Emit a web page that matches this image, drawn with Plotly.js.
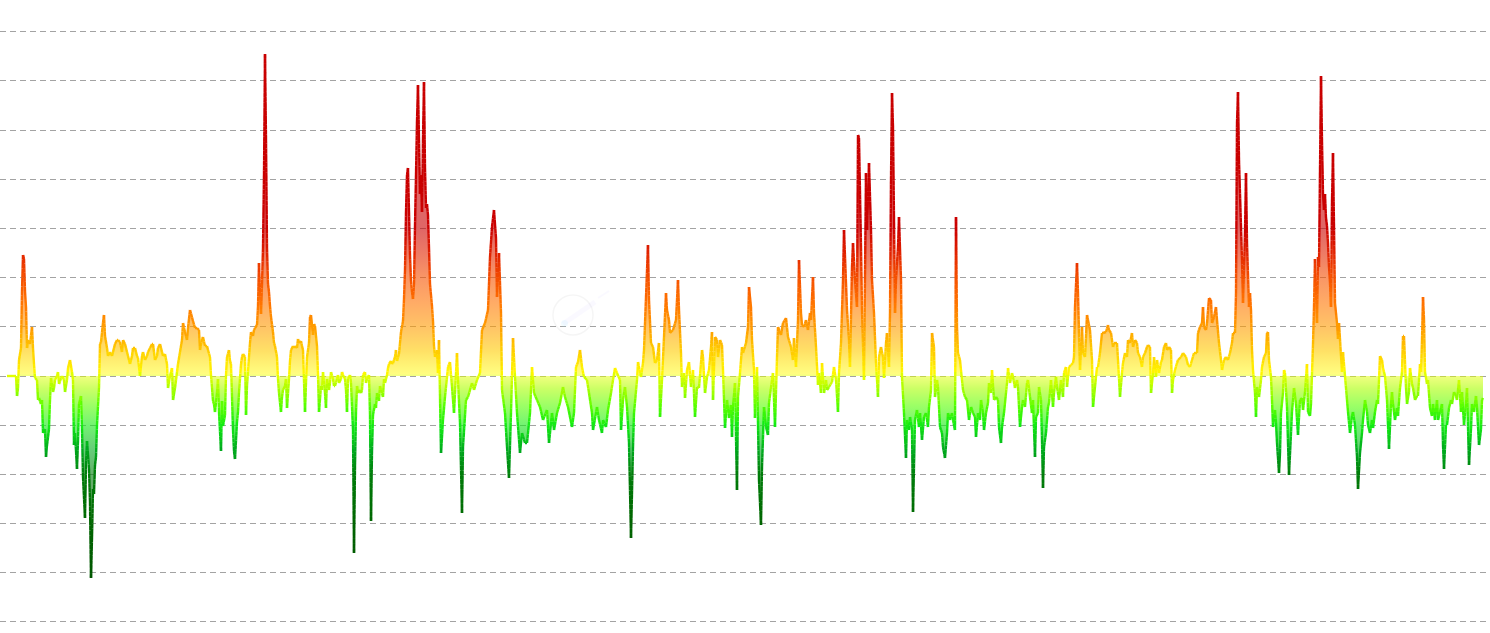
<!DOCTYPE html>
<html>
<head>
<meta charset="utf-8">
<script src="https://cdn.plot.ly/plotly-3.0.1.min.js"></script>
<style>
html,body{margin:0;padding:0;background:#ffffff;}
#chart{width:1490px;height:633px;}
</style>
</head>
<body>
<div id="chart"></div>
<script>
// ---- data: time index (days) and values, in segments ----
const seg1Day = [7,16,17,18,19,21,22,23,24,25,26,27,28,30,32,33,34,35,37,38,39,41,42,43,45,46,47,49,50,51,53,54,55,57,58,59,61,62,64,65,67,68,70,72,73,74,75,77,78,79,81,82,83,85,86,87,89,90,91,92,93,94,95,96,97,99,100,101,103,104,105,107,108,110,112,113,115,117,118,120,122,123,125,127,128,130,132,133,135,137,138,140,142,143,145,147,148,150,152,153,155,157,158,160,162,163,165,167,168,170,172,173,175,177,178,180,182,183,185,187,188];
const seg1Value = [0,0,-20,-12,16,28,85,121,117,85,69,28,36,32,49,28,12,-2,-4,-24,-22,-28,-24,-57,-53,-81,-69,-53,-24,-2,-16,-12,-4,0,4,-8,-2,0,-4,-16,-4,8,16,4,-4,-69,-57,-93,-65,-28,-20,-53,-101,-142,-89,-65,-93,-126,-202,-162,-113,-118,-89,-81,-49,-12,32,34,53,61,40,28,20,24,20,24,32,36,36,34,24,36,32,24,20,12,20,28,28,20,18,0,20,24,16,20,24,28,32,32,16,20,28,32,24,20,22,12,-12,0,8,-24,-12,4,12,24,36,53,44,36,48];

const seg2Day = [190,193,195,197,199,200,202,203,205,207,208,210,211,213,214,215,217,218,219,221,222,223,225,226,227,229,230,231,233,234,235,237,238,239,241,242,243,245,246,247,249,250,251,253,254,255,257,258,259,260,261,262,263,264,265,266,267,268,269,270,271,273,274,275,277,278,279,281,282,283,285,286,287,289,290,291,293,294,295,297,298,299,301,302,303,305,306,307,309,310,311,313,314,315,317,318,319,321,322,323,325,326,327,329,330,331,333,334,335,337,338,339,341,342,343,345,346,347,348,350,351,353,354,355,356,357,358,359,361,362,363,365,366,367,369,370,371,372,373,375,376,377,379,380,381,383,384,385,387,388,389,391,392,393,395,396,397,399,400,401,403,404,405,406,407,408,409,410,411,412,413,414,415,416,417,418,419,420,421,422,423,424,425,426,427,428,429,430,431,432,433,434,435,437,438];
const seg2Value = [66,55,48,48,46,26,37,39,30,30,26,19,1,-25,-28,-36,-17,-3,-36,-75,-25,-50,-39,1,19,26,15,12,-54,-75,-83,-46,-36,-17,12,19,22,19,-39,-10,19,33,44,40,46,48,51,70,113,84,62,92,128,201,322,237,128,92,84,70,59,44,33,30,19,-3,-17,-36,-21,-14,-10,-3,-32,-3,15,26,30,28,30,28,37,33,35,30,26,-36,-7,19,33,59,61,41,52,50,30,1,-36,-10,-14,4,-17,-32,-3,-14,-7,4,-3,-10,-10,-3,1,-7,-3,4,1,-3,-14,-36,-3,1,-7,-54,-177,-90,-36,-10,-17,-14,-17,-14,1,4,-7,-3,1,-39,-145,-75,-39,-28,-32,-17,-25,-10,-14,-21,-3,-7,1,8,12,15,12,13,19,26,15,22,33,44,55,77,106,164,201,208,164,121,95,84,77,92,150,201,255,291,237,182,201,164,237,294,208,168,172,161,128,92,81,70,55,30,19,26,3];

const seg3Day = [439,441,443,445,448,450,452,454,457,458,460,462,463,466,468,472,474,477,480,482,485,488,490,492,494,496,497,499,501,502,505,507,509,511,513,515,517,520,522,525,527,530,532,534,537,540,543,547,549,552,554,557,560,563,565,568,572,574,576,578,580,582,584,587,589,592,593,597,599,602,603,606,608,611,613,615,617,620,621,623,625,627,629,631,633,634,637,638,641,643,644,646,648,649,651,653,655,657,659,660,662,664,666,667,669];
const seg3Value = [36,-77,-44,-21,9,14,-11,-37,23,-4,-47,-137,-71,-24,-21,-7,-14,-4,3,46,53,66,119,149,166,138,79,123,63,-14,-37,-71,-102,-37,38,-1,-37,-77,-57,-67,-67,-37,9,-17,-24,-31,-44,-34,-67,-37,-54,-37,-27,-11,-21,-31,-51,-37,9,14,26,9,-1,-4,-17,-37,-54,-31,-44,-57,-44,-51,-34,-17,-4,8,3,-4,-54,-24,-11,-31,-67,-162,-71,-37,-4,14,-1,13,26,79,131,76,33,29,13,16,33,-41,-4,39,83,66,56];

const seg4Day = [670,673,676,678,679,681,682,684,685,687,689,691,693,695,697,699,702,703,705,707,709,711,712,713,715,717,718,720,722,723,725,727,729,731,732,733,735,737,738,740,742,743,746,748,749,751,752,754,755,757,759,761,762,764,766,768,769,772,773,775,777,778,781,783,786,788,791,793,794,796,798,799,801,802,804,806,808,810,811,813,814,816,818,819,821,822,824,826,827,829,832,834,836,838,839,841,843,844,846,847,849,850,852,853,855,857,858,859,861,862,864,866,867,869,871,872,874,876,877,878,879,881,883,884,886,887,889,890,891,892,893,895,896,898,899,901,902,904,906,907,909];
const seg4Value = [43,46,56,96,66,23,-11,3,-22,6,14,-11,6,-41,-11,-12,26,19,-17,-1,6,29,44,-24,39,36,19,36,31,6,-52,-24,-42,-29,-61,-31,-7,-114,-21,3,29,23,33,49,89,69,36,6,-42,9,-104,-149,-91,-31,-51,-59,-27,-4,3,-51,19,49,41,53,58,39,29,16,38,9,56,116,63,51,49,56,46,63,56,99,63,29,-9,3,-17,13,-17,-4,-14,-11,-6,9,-4,-36,3,33,96,146,93,66,36,9,109,133,96,69,241,238,129,66,-4,203,146,213,146,96,63,13,-4,-21,19,29,19,-2,33,43,9,63,196,283,249,63,96,129,159,96,-1,-37,-82,-44,-54];

const seg5Day = [910,912,913,915,917,919,920,922,924,926,928,929,931,932,934,935,937,938,940,942,943,945,947,948,950,952,953,955,956,957,958,960,962,963,965,967,969,971,973,975,976,978,980,981,983,984,986,988,989,991,992,994,996,998,999,1001,1002,1004,1006,1007,1008,1010,1012,1013,1015,1017,1018,1020,1022,1023,1025,1027,1028,1030,1032,1033,1035,1036,1038,1039,1041,1042,1043,1044,1046,1048,1049,1051,1053,1054,1056,1057,1059,1061,1063,1064,1066,1067,1069,1071,1073,1074,1075,1077,1078,1079,1080,1082,1083,1085,1087,1088,1090,1092,1093,1095,1097,1098,1100,1102,1103,1106,1108,1109,1111,1113,1114,1117,1118,1120,1122,1123,1125,1127,1128,1130,1132,1133,1135,1137,1138,1140,1142,1143,1145,1147,1148];
const seg5Value = [-41,-54,-136,-44,-34,-51,-37,-64,-41,-37,-51,-31,-14,43,29,-21,-4,-11,-51,-57,-71,-82,-57,-37,-44,-37,-44,-54,159,49,23,16,-4,-14,-21,-24,-44,-31,-37,-41,-61,-37,-44,-24,-37,-54,-37,-27,-7,-17,6,-24,-21,-24,-51,-67,-51,-37,-17,-7,8,-7,3,-1,-12,-4,-11,-51,-31,-24,-31,-7,-4,-21,-37,-24,-81,-41,-37,-11,-24,-64,-112,-71,-57,-31,-27,-4,-31,-17,-1,-11,-24,-4,-21,3,9,-11,9,11,13,19,69,113,83,43,6,49,23,19,61,56,46,16,-31,-11,9,9,23,43,43,44,51,46,43,29,33,33,16,-21,3,13,23,19,36,33,43,29,36,33,23,19,9,19,23,29,31];

const seg6Day = [1150,1151,1153,1154,1156,1157,1159,1161,1162,1164,1166,1167,1169,1171,1172,1173,1175,1177,1178,1181,1183,1186,1188,1190,1192,1194,1197,1198,1200,1202,1203,1204,1206,1207,1209,1211,1212,1214,1216,1217,1219,1221,1222,1224,1226,1228,1230,1232,1233,1235,1236,1237,1238,1239,1241,1242,1243,1245,1246,1247,1249,1250,1251,1252,1253,1255,1256,1257,1259,1261,1262,1264,1266,1267,1268,1269,1271,1272,1273,1275,1276,1277,1279,1280,1281,1283,1284,1285,1287,1288,1289];
const seg6Value = [29,-17,3,19,-1,16,3,14,16,29,33,26,29,26,-17,-4,6,13,16,19,23,19,11,9,16,23,23,43,49,53,69,49,46,53,78,76,53,59,69,56,33,16,6,16,19,16,23,33,43,43,83,253,284,216,149,116,73,143,203,133,69,83,66,26,6,-17,-41,-11,-21,-4,9,19,23,43,44,16,-1,-24,-51,-34,-47,-67,-97,-77,-37,-17,6,3,-31,-67,-99];

const seg7Day = [1292,1294,1296,1298,1300,1302,1303,1305,1307,1308,1310,1311,1313,1314,1315,1317,1318,1319,1321,1322,1323,1324,1325,1326,1327,1328,1329,1330,1331,1332,1333,1334,1335,1337,1338,1339,1341,1342,1343,1345,1347,1348,1350,1352,1353,1355,1357,1358,1360,1362,1363,1365,1367,1368,1370,1372,1373,1375,1377,1378,1380,1382,1383,1385,1387,1388,1389,1391,1392,1393,1395,1397,1398,1400,1402,1403,1404,1406,1407,1409,1410,1412,1413,1415,1417,1418,1420,1421,1422,1423,1424,1425,1427,1428,1430,1432,1433,1435,1437,1438,1440,1442,1443,1444,1446,1447,1449,1451,1452,1454,1456,1457,1459,1461,1462,1464,1466,1467,1469,1471,1472,1474,1476,1477,1479,1481,1482,1483];
const seg7Value = [-36,-12,-28,-59,-24,-22,-34,-16,12,-36,-40,-28,32,69,117,53,119,109,300,235,182,166,182,158,150,133,109,93,69,174,223,150,73,53,37,53,20,4,24,0,-24,-36,-57,-40,-36,-49,-81,-113,-77,-57,-44,-24,-36,-49,-57,-44,-52,-36,-24,-28,20,16,8,0,-24,-49,-73,-28,-16,-28,-44,-32,-40,-12,4,40,40,-12,-28,-16,8,-8,-12,-24,-20,-20,12,4,36,79,57,4,-8,-4,-32,-40,-28,-44,-24,-44,-36,-28,-69,-93,-49,-49,-32,-24,-28,-16,-20,-24,-4,-36,-16,-49,-28,-12,-89,-53,-28,-36,-20,-32,-69,-53,-24,-22];

// ---- assemble ----
const dayParts = [seg1Day, seg2Day, seg3Day, seg4Day, seg5Day, seg6Day, seg7Day];
const valueParts = [seg1Value, seg2Value, seg3Value, seg4Value, seg5Value, seg6Value, seg7Value];
const days = [], values = [];
for (let s = 0; s < dayParts.length; s++) {
  const m = Math.min(dayParts[s].length, valueParts[s].length);
  if (dayParts[s].length !== valueParts[s].length) console.warn('segment', s + 1, 'length mismatch', dayParts[s].length, valueParts[s].length);
  for (let i = 0; i < m; i++) { days.push(dayParts[s][i]); values.push(valueParts[s][i]); }
}

// ---- styling ----
const GRID = 49.17;          // value units between grid lines
const Y_MIN = -257, Y_MAX = 376;
const colorStops = [
  [-5.3, [0, 80, 0]],
  [-4, [0, 88, 0]],
  [-3, [0, 100, 0]],
  [-2, [0, 125, 10]],
  [-1.5, [0, 170, 30]],
  [-1, [20, 235, 20]],
  [-0.6, [90, 255, 0]],
  [-0.25, [170, 255, 0]],
  [0, [225, 255, 0]],
  [0.05, [255, 250, 0]],
  [0.5, [255, 205, 0]],
  [1, [255, 155, 0]],
  [1.5, [255, 115, 0]],
  [2, [245, 80, 0]],
  [2.5, [225, 35, 0]],
  [3, [202, 0, 0]],
  [7.7, [200, 0, 0]]
];
function rgbAt(g) {
  if (g <= colorStops[0][0]) return colorStops[0][1];
  for (let i = 1; i < colorStops.length; i++) {
    if (g <= colorStops[i][0]) {
      const a = colorStops[i - 1], b = colorStops[i];
      const t = (g - a[0]) / (b[0] - a[0]);
      return [0, 1, 2].map(k => Math.round(a[1][k] + (b[1][k] - a[1][k]) * t));
    }
  }
  return colorStops[colorStops.length - 1][1];
}
const rgbStr = (c, a) => a === undefined ? `rgb(${c[0]},${c[1]},${c[2]})` : `rgba(${c[0]},${c[1]},${c[2]},${a})`;

// fill gradient colorscale over the visible value range
const fillScale = [];
const gLo = Y_MIN / GRID, gHi = Y_MAX / GRID;
fillScale.push([0, rgbStr(rgbAt(gLo), 0.6)]);
colorStops.forEach(s => {
  const t = (s[0] * GRID - Y_MIN) / (Y_MAX - Y_MIN);
  if (t > 0 && t < 1) fillScale.push([t, rgbStr(s[1], s[0] === 0 || s[0] === 0.05 ? 0.5 : 0.6)]);
});
fillScale.push([1, rgbStr(rgbAt(gHi), 0.6)]);

const traces = [];
traces.push({
  type: 'scatter', mode: 'lines', x: days, y: values,
  fill: 'tozeroy',
  fillgradient: { type: 'vertical', start: Y_MIN, stop: Y_MAX, colorscale: fillScale },
  line: { width: 0, color: 'rgba(0,0,0,0)' },
  hoverinfo: 'skip', showlegend: false
});

// line coloured by value: each straight segment is drawn in collinear pieces,
// each piece grouped into a colour bin by its value (gradient along the line)
const groups = {};
const STEP = 0.1 * GRID;
for (let i = 0; i < days.length - 1; i++) {
  const x0 = days[i], x1 = days[i + 1], v0 = values[i], v1 = values[i + 1];
  const pieces = Math.max(1, Math.ceil(Math.abs(v1 - v0) / STEP));
  for (let p = 0; p < pieces; p++) {
    const ta = p / pieces, tb = (p + 1) / pieces;
    const xa = x0 + (x1 - x0) * ta, xb = x0 + (x1 - x0) * tb;
    const va = v0 + (v1 - v0) * ta, vb = v0 + (v1 - v0) * tb;
    const key = Math.round((va + vb) / 2 / GRID * 10);
    if (!groups[key]) groups[key] = { x: [], y: [] };
    groups[key].x.push(xa, xb, null);
    groups[key].y.push(va, vb, null);
  }
}
Object.keys(groups).map(Number).sort((a, b) => a - b).forEach(k => {
  traces.push({
    type: 'scatter', mode: 'lines', x: groups[k].x, y: groups[k].y,
    connectgaps: false,
    line: { width: 2.4, color: rgbStr(rgbAt(k / 10)) },
    hoverinfo: 'skip', showlegend: false
  });
});

const W = 1487, H = 633;
const layout = {
  width: 1490, height: 633,
  margin: { l: 0, r: 3, t: 0, b: 0, pad: 0 },
  paper_bgcolor: '#ffffff', plot_bgcolor: '#ffffff',
  showlegend: false,
  xaxis: { range: [0, 1487], visible: false, fixedrange: true },
  yaxis: {
    range: [Y_MIN, Y_MAX], tick0: 0, dtick: GRID,
    showgrid: true, gridcolor: '#a3a3a3', gridwidth: 1, griddash: '6px,4px',
    zeroline: false, showticklabels: false, ticks: '', showline: false, fixedrange: true
  },
  shapes: [
    { type: 'circle', xref: 'paper', yref: 'paper', x0: 553 / W, x1: 593 / W, y0: (H - 335) / H, y1: (H - 295) / H,
      line: { color: 'rgba(0,0,0,0.04)', width: 1.5 } },
    { type: 'line', xref: 'paper', yref: 'paper', x0: 563 / W, y0: (H - 324) / H, x1: 595 / W, y1: (H - 302) / H,
      line: { color: 'rgba(200,185,255,0.09)', width: 5 } },
    { type: 'line', xref: 'paper', yref: 'paper', x0: 598 / W, y0: (H - 298) / H, x1: 609 / W, y1: (H - 291) / H,
      line: { color: 'rgba(200,185,255,0.09)', width: 2 } },
    { type: 'circle', xref: 'paper', yref: 'paper', x0: 561 / W, x1: 568 / W, y0: (H - 327) / H, y1: (H - 320) / H,
      fillcolor: 'rgba(150,230,255,0.12)', line: { width: 0 } }
  ]
};

Plotly.newPlot('chart', traces, layout, { staticPlot: true, displayModeBar: false });
</script>
</body>
</html>
